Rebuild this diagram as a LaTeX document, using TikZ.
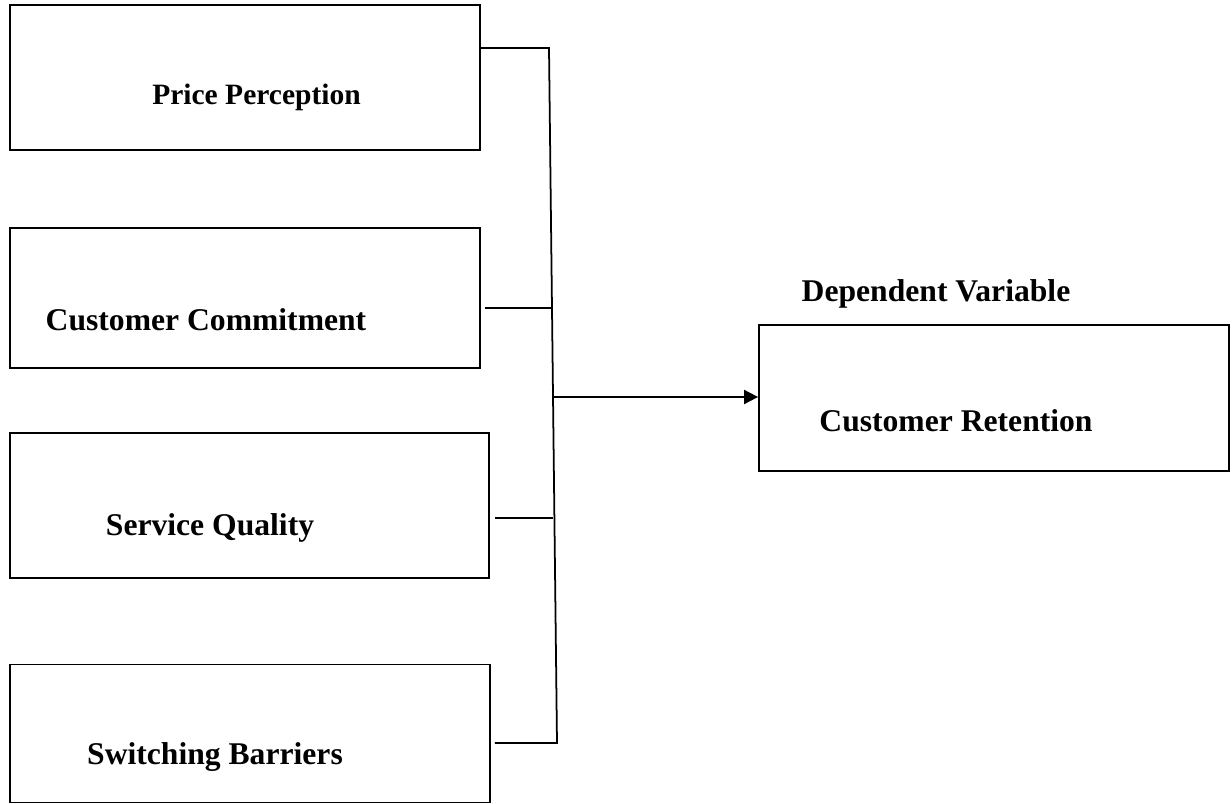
\documentclass[tikz,border=0pt]{standalone}
\usepackage{fontspec}
\setmainfont{Liberation Serif}
\usetikzlibrary{arrows.meta}

\begin{document}
\begin{tikzpicture}[x=0.02cm,y=-0.02cm,
    box/.style={draw,line width=1pt,inner sep=0pt},
    lbl/.style={font=\fontsize{18}{22}\selectfont\bfseries,inner sep=0pt},
    link/.style={line width=1pt}]
    \useasboundingbox (0,0) rectangle (1232,804);
    \node[box,minimum width=470*0.02cm,minimum height=145*0.02cm] (pp) at (245,77.5) {};
    \node[box,minimum width=470*0.02cm,minimum height=140*0.02cm] (cc) at (245,298) {};
    \node[box,minimum width=479*0.02cm,minimum height=145*0.02cm] (sq) at (249.5,505.5) {};
    \node[box,minimum width=480*0.02cm,minimum height=138*0.02cm] (sb) at (250,733.5) {};
    \node[box,minimum width=470*0.02cm,minimum height=146*0.02cm] (cr) at (994,398) {};
    \node[lbl,font=\fontsize{16.8}{20}\selectfont\bfseries] (pptext) at (256.5,97) {Price Perception};
    \node[lbl] (cctext) at (206,320) {Customer Commitment};
    \node[lbl] (sqtext) at (210,528) {Service Quality};
    \node[lbl] (sbtext) at (215,757) {Switching Barriers};
    \node[lbl] (crtext) at (956,421) {Customer Retention};
    \node[lbl] (dvtext) at (936,294) {Dependent Variable};
    \coordinate (top) at (549,48);
    \coordinate (bot) at (557,743);
    \coordinate (j2) at (551,308);
    \coordinate (j3) at (553,518);
    \coordinate (jm) at (553,397);
    \draw[link] (pp.east |- top) -- (top) -- (bot) -- ([xshift=4*0.02cm]sb.east |- bot);
    \draw[link] ([xshift=4*0.02cm]cc.east |- j2) -- (j2);
    \draw[link] ([xshift=5*0.02cm]sq.east |- j3) -- (j3);
    \draw[link,-{Triangle[length=8pt,width=8pt]}] (jm) -- (cr.west |- jm);
\end{tikzpicture}
\end{document}
